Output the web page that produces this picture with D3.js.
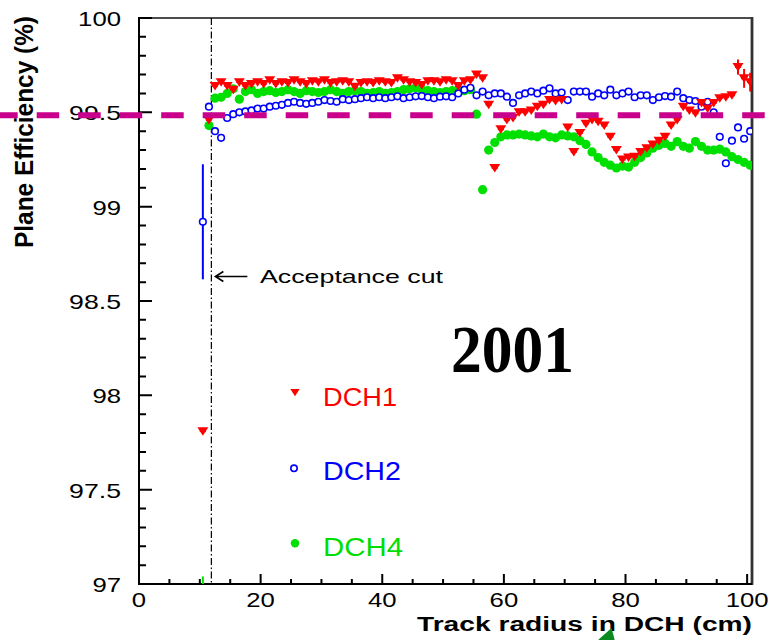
<!DOCTYPE html>
<html>
<head>
<meta charset="utf-8">
<script src="https://cdn.jsdelivr.net/npm/d3@7"></script>
<style>
  html, body { margin: 0; padding: 0; background: #fff; }
  svg { display: block; font-family: "Liberation Sans", Arial, Helvetica, sans-serif; }
</style>
</head>
<body>
<svg id="chart" width="772" height="640"></svg>
<script>
// Track radius bin centres (cm); each bin is 1 cm wide
const radius = [
  10.5, 11.5, 12.5, 13.5, 14.5, 15.5, 16.5, 17.5, 18.5, 19.5,
  20.5, 21.5, 22.5, 23.5, 24.5, 25.5, 26.5, 27.5, 28.5, 29.5,
  30.5, 31.5, 32.5, 33.5, 34.5, 35.5, 36.5, 37.5, 38.5, 39.5,
  40.5, 41.5, 42.5, 43.5, 44.5, 45.5, 46.5, 47.5, 48.5, 49.5,
  50.5, 51.5, 52.5, 53.5, 54.5, 55.5, 56.5, 57.5, 58.5, 59.5,
  60.5, 61.5, 62.5, 63.5, 64.5, 65.5, 66.5, 67.5, 68.5, 69.5,
  70.5, 71.5, 72.5, 73.5, 74.5, 75.5, 76.5, 77.5, 78.5, 79.5,
  80.5, 81.5, 82.5, 83.5, 84.5, 85.5, 86.5, 87.5, 88.5, 89.5,
  90.5, 91.5, 92.5, 93.5, 94.5, 95.5, 96.5, 97.5, 98.5, 99.5,
  100.5
];
const binHalfWidth = 0.5;

// Plane efficiency (%) per chamber
const dch1 = [
  97.81, 99.46, 99.64, 99.66, 99.64, 99.62, 99.66, 99.64, 99.65, 99.66,
  99.65, 99.67, 99.65, 99.66, 99.655, 99.67, 99.66, 99.65, 99.665, 99.66,
  99.67, 99.655, 99.66, 99.665, 99.66, 99.636, 99.655, 99.66, 99.655, 99.665,
  99.66, 99.655, 99.68, 99.67, 99.66, 99.655, 99.645, 99.665, 99.665, 99.66,
  99.67, 99.665, 99.64, 99.665, 99.67, 99.70, 99.68, 99.54, 99.205, 99.41,
  99.46, 99.47, 99.50, 99.50, 99.51, 99.53, 99.54, 99.565, 99.56, 99.565,
  99.42, 99.29, 99.39, 99.44, 99.46, 99.45, 99.43, 99.37, 99.30, 99.25,
  99.26, 99.265, 99.29, 99.31, 99.33, 99.35, 99.37, 99.43, 99.46, 99.53,
  99.51, 99.495, 99.55, 99.52, 99.55, 99.575, 99.58, 99.59, 99.74, 99.68,
  99.66
];
const dch2 = [
  98.92, 99.53, 99.40, 99.365, 99.47, 99.49, 99.50, 99.505, 99.51, 99.52,
  99.52, 99.53, 99.535, 99.54, 99.55, 99.556, 99.55, 99.545, 99.55, 99.556,
  99.565, 99.56, 99.556, 99.57, 99.565, 99.57, 99.575, 99.58, 99.575, 99.58,
  99.575, 99.58, 99.585, 99.575, 99.58, 99.585, 99.586, 99.58, 99.575, 99.583,
  99.585, 99.58, 99.60, 99.62, 99.63, 99.59, 99.61, 99.59, 99.60, 99.60,
  99.583, 99.55, 99.59, 99.60, 99.61, 99.60, 99.615, 99.627, 99.60, 99.605,
  99.565, 99.61, 99.61, 99.61, 99.583, 99.60, 99.59, 99.62, 99.59, 99.60,
  99.61, 99.58, 99.59, 99.59, 99.565, 99.58, 99.586, 99.583, 99.61, 99.575,
  99.565, 99.56, 99.53, 99.556, 99.50, 99.37, 99.23, 99.35, 99.42, 99.36,
  99.40
];
const dch4 = [
  96.95, 99.43, 99.575, 99.58, 99.60, 99.625, 99.57, 99.61, 99.62, 99.60,
  99.61, 99.615, 99.605, 99.61, 99.62, 99.61, 99.60, 99.615, 99.61, 99.605,
  99.61, 99.62, 99.61, 99.60, 99.61, 99.615, 99.61, 99.60, 99.605, 99.61,
  99.60, 99.605, 99.61, 99.62, 99.625, 99.63, 99.62, 99.615, 99.61, 99.605,
  99.61, 99.615, 99.62, 99.615, 99.62, 99.49, 99.09, 99.30, 99.34, 99.37,
  99.38, 99.38, 99.385, 99.38, 99.375, 99.37, 99.385, 99.37, 99.365, 99.38,
  99.375, 99.37, 99.35, 99.33, 99.29, 99.26, 99.235, 99.22, 99.205, 99.215,
  99.21, 99.235, 99.26, 99.285, 99.31, 99.325, 99.335, 99.32, 99.345, 99.32,
  99.31, 99.345, 99.32, 99.30, 99.30, 99.305, 99.29, 99.265, 99.25, 99.235,
  99.22
];

// Statistical errors large enough to show beyond the markers
const dch1ErrRadius = [98.5, 99.5, 100.5];
const dch1ErrValue  = [0.04, 0.05, 0.05];
const dch2ErrRadius = [10.5];
const dch2ErrValue  = [0.305];
const dch4ErrRadius = [10.5];
const dch4ErrValue  = [0.09];

// Axis ticks and labels
const xTicks = [0, 20, 40, 60, 80, 100];
const xTickLabels = ["0", "20", "40", "60", "80", "100"];
const yTicks = [97, 97.5, 98, 98.5, 99, 99.5, 100];
const yTickLabels = ["97", "97.5", "98", "98.5", "99", "99.5", "100"];

// Reference lines
const efficiencyLine = 99.485;
const acceptanceCut = 11.9;
const acceptanceArrowAt = 98.63;

// ---------------------------------------------------------------
const svg = d3.select("#chart");
const L = 139, R = 752, T = 18, B = 584;

const x = d3.scaleLinear().domain([0, 100.8]).range([L, R]);
const y = d3.scaleLinear().domain([97, 100]).range([B, T]);

const colors = { DCH1: "#ff0000", DCH2: "#0000ff", DCH4: "#00e000" };

// width of a label drawn with wide bitmap-style digits
const labelWidth = s => s.replace(/[^0-9]/g, "").length * 14.3 + (s.split(".").length - 1) * 9;

svg.append("defs").append("clipPath").attr("id", "plotClip")
  .append("rect").attr("x", L).attr("y", T).attr("width", R - L).attr("height", B - T);

// ---- frame
svg.append("line").attr("x1", L).attr("x2", R).attr("y1", T).attr("y2", T)
  .attr("stroke", "#111").attr("stroke-width", 1.6);
svg.append("line").attr("x1", R).attr("x2", R).attr("y1", T - 1).attr("y2", B + 1)
  .attr("stroke", "#333").attr("stroke-width", 2.8);
svg.append("line").attr("x1", L).attr("x2", L).attr("y1", T - 1).attr("y2", B + 1)
  .attr("stroke", "#000").attr("stroke-width", 2);
svg.append("line").attr("x1", L - 1).attr("x2", R).attr("y1", B).attr("y2", B)
  .attr("stroke", "#000").attr("stroke-width", 2);

// ---- tick marks, drawn as one path per axis
const yMinor = d3.range(0, 31).map(i => 97 + i * 0.1);
const xMinor = d3.range(0, 21).map(i => i * 5);
const tickPath = d3.path();
yMinor.forEach(v => {
  const isMajor = yTicks.some(t => Math.abs(t - v) < 1e-6);
  tickPath.moveTo(L, y(v));
  tickPath.lineTo(L + (isMajor ? 13 : 7), y(v));
});
xMinor.forEach(v => {
  const isMajor = xTicks.includes(v);
  tickPath.moveTo(x(v), B);
  tickPath.lineTo(x(v), B - (isMajor ? 10 : 5));
});
svg.append("path")
  .attr("d", tickPath.toString())
  .attr("fill", "none")
  .attr("stroke", "#000")
  .attr("stroke-width", 2);

// ---- tick labels
svg.append("g").selectAll("text").data(yTicks).join("text")
  .attr("x", L - 18).attr("y", d => y(d) + 8)
  .attr("text-anchor", "end")
  .attr("font-size", 21).attr("fill", "#000")
  .attr("textLength", (d, i) => labelWidth(yTickLabels[i]))
  .attr("lengthAdjust", "spacingAndGlyphs")
  .text((d, i) => yTickLabels[i]);
svg.append("g").selectAll("text").data(xTicks).join("text")
  .attr("x", d => x(d)).attr("y", B + 23)
  .attr("text-anchor", "middle")
  .attr("font-size", 21).attr("fill", "#000")
  .attr("textLength", (d, i) => labelWidth(xTickLabels[i]))
  .attr("lengthAdjust", "spacingAndGlyphs")
  .text((d, i) => xTickLabels[i]);

// ---- acceptance cut (dash-dot vertical)
svg.append("line")
  .attr("x1", x(acceptanceCut)).attr("x2", x(acceptanceCut))
  .attr("y1", T).attr("y2", B)
  .attr("stroke", "#000").attr("stroke-width", 1.2)
  .attr("stroke-dasharray", "7 2.5 1.5 2.5");

// ---- data
const plot = svg.append("g").attr("clip-path", "url(#plotClip)");

const downTriangle = {
  draw(ctx) {
    ctx.moveTo(-5.5, -4);
    ctx.lineTo(5.5, -4);
    ctx.lineTo(0, 4.5);
    ctx.closePath();
  }
};

function binBars(values, color) {
  plot.append("g").attr("stroke", color).attr("stroke-width", 1.8)
    .selectAll("line").data(radius).join("line")
    .attr("x1", d => x(d - binHalfWidth)).attr("x2", d => x(d + binHalfWidth))
    .attr("y1", (d, i) => y(values[i])).attr("y2", (d, i) => y(values[i]));
}

function errorBars(values, errR, errV, color) {
  errR.forEach((r, i) => {
    const v = values[radius.indexOf(r)];
    plot.append("line")
      .attr("x1", x(r)).attr("x2", x(r))
      .attr("y1", y(v - errV[i])).attr("y2", y(v + errV[i]))
      .attr("stroke", color).attr("stroke-width", 2);
  });
}

// DCH4: filled dots
binBars(dch4, colors.DCH4);
errorBars(dch4, dch4ErrRadius, dch4ErrValue, colors.DCH4);
plot.append("g").selectAll("circle").data(radius).join("circle")
  .attr("cx", d => x(d)).attr("cy", (d, i) => y(dch4[i]))
  .attr("r", 4.6).attr("fill", colors.DCH4);

// DCH2: open circles
binBars(dch2, colors.DCH2);
errorBars(dch2, dch2ErrRadius, dch2ErrValue, colors.DCH2);
plot.append("g").selectAll("circle").data(radius).join("circle")
  .attr("cx", d => x(d)).attr("cy", (d, i) => y(dch2[i]))
  .attr("r", 3.3).attr("fill", "#fff")
  .attr("stroke", colors.DCH2).attr("stroke-width", 1.6);

// DCH1: down triangles
binBars(dch1, colors.DCH1);
errorBars(dch1, dch1ErrRadius, dch1ErrValue, colors.DCH1);
plot.append("g").selectAll("path").data(radius).join("path")
  .attr("d", d3.symbol().type(downTriangle)())
  .attr("transform", (d, i) => `translate(${x(d)},${y(dch1[i])})`)
  .attr("fill", colors.DCH1);

// ---- legend
const legendRows = [
  { name: "DCH1", my: 392.5, ty: 405.5, len: 74, text: "#ff0000" },
  { name: "DCH2", my: 468.3, ty: 480, len: 78, text: "#0000ff" },
  { name: "DCH4", my: 543.3, ty: 555.7, len: 80, text: "#00dd00" }
];
legendRows.forEach(row => {
  const c = colors[row.name];
  if (row.name === "DCH1") {
    svg.append("path").attr("d", d3.symbol().type(downTriangle)())
      .attr("transform", `translate(295,${row.my}) scale(0.85)`).attr("fill", c);
  } else if (row.name === "DCH2") {
    svg.append("circle").attr("cx", 294).attr("cy", row.my).attr("r", 3.2)
      .attr("fill", "none").attr("stroke", c).attr("stroke-width", 1.6);
  } else {
    svg.append("circle").attr("cx", 295).attr("cy", row.my).attr("r", 4.2).attr("fill", c);
  }
  svg.append("text").attr("x", 323).attr("y", row.ty)
    .attr("font-size", 26).attr("fill", row.text)
    .attr("textLength", row.len).attr("lengthAdjust", "spacingAndGlyphs")
    .text(row.name);
});

// ---- acceptance cut annotation
const ay = y(acceptanceArrowAt);
const ax = x(acceptanceCut) + 4;
svg.append("path")
  .attr("d", `M${ax + 32},${ay} L${ax},${ay} M${ax + 8},${ay - 5} L${ax},${ay} L${ax + 8},${ay + 5}`)
  .attr("fill", "none").attr("stroke", "#000").attr("stroke-width", 1.6);
svg.append("text").attr("x", 260).attr("y", 283)
  .attr("font-size", 19).attr("fill", "#000")
  .attr("textLength", 183).attr("lengthAdjust", "spacingAndGlyphs")
  .text("Acceptance cut");

// ---- year label
svg.append("text").attr("x", 451).attr("y", 372)
  .attr("font-family", "'Liberation Serif', 'Times New Roman', serif")
  .attr("font-weight", "bold").attr("font-size", 67).attr("fill", "#000")
  .attr("textLength", 123).attr("lengthAdjust", "spacingAndGlyphs")
  .text("2001");

// ---- axis titles
svg.append("text")
  .attr("transform", "translate(33,132) rotate(-90)")
  .attr("text-anchor", "middle")
  .attr("font-weight", "bold").attr("font-size", 25).attr("fill", "#000")
  .attr("textLength", 232).attr("lengthAdjust", "spacingAndGlyphs")
  .text("Plane Efficiency (%)");
svg.append("text").attr("x", 417).attr("y", 631)
  .attr("font-weight", "bold").attr("font-size", 20).attr("fill", "#000")
  .attr("textLength", 335).attr("lengthAdjust", "spacingAndGlyphs")
  .text("Track radius in DCH (cm)");

// ---- pointer arrow entering from below
svg.append("path")
  .attr("d", "M611.5,628 L597,641 L615,641 Z")
  .attr("fill", "#0b8a22");

// ---- efficiency reference line across the whole figure
svg.append("line")
  .attr("x1", -4.8).attr("x2", 772)
  .attr("y1", y(efficiencyLine)).attr("y2", y(efficiencyLine))
  .attr("stroke", "#c8008c").attr("stroke-width", 6)
  .attr("stroke-dasharray", "22.5 19");
</script>
</body>
</html>
